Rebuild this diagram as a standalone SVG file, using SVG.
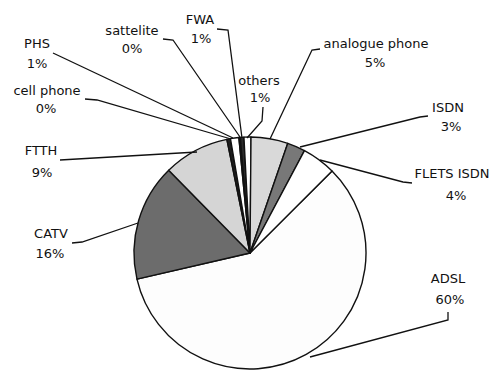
<svg xmlns="http://www.w3.org/2000/svg" width="491" height="370" viewBox="0 0 491 370">
<style>
.s{stroke:#111;stroke-width:1.4;stroke-linejoin:round}
.t{font-family:"DejaVu Sans","Liberation Sans",sans-serif;font-size:13px;fill:#111;text-anchor:middle}
.l{fill:none;stroke:#111;stroke-width:1.3}
</style>
<rect width="491" height="370" fill="#fff"/>
<g id="slices">
<g id="adsl"><path class="s" fill="#fdfdfd" d="M250,253 L332.02,170.98 A116,116 0 1 1 136.97,279.1 Z"/></g>
<g id="catv"><path class="s" fill="#6c6c6c" d="M250,253 L136.97,279.1 A116,116 0 0 1 168.7,170.26 Z"/></g>
<g id="ftth"><path class="s" fill="#d5d5d5" d="M250,253 L168.7,170.26 A116,116 0 0 1 226.87,139.33 Z"/></g>
<g id="cellphone"><path class="s" fill="#1e1e1e" d="M250,253 L226.87,139.33 A116,116 0 0 1 230.45,138.66 Z"/></g>
<g id="phs"><path class="s" fill="#ffffff" d="M250,253 L230.45,138.66 A116,116 0 0 1 238.88,137.53 Z"/></g>
<g id="sattelite"><path class="s" fill="#555" d="M250,253 L238.88,137.53 A116,116 0 0 1 240.29,137.41 Z"/></g>
<g id="fwa"><path class="s" fill="#2a2a2a" d="M250,253 L240.29,137.41 A116,116 0 0 1 243.93,137.16 Z"/></g>
<g id="others"><path class="s" fill="#ffffff" d="M250,253 L243.93,137.16 A116,116 0 0 1 251.01,137 Z"/></g>
<g id="analogue"><path class="s" fill="#d9d9d9" d="M250,253 L251.01,137 A116,116 0 0 1 287.77,143.32 Z"/></g>
<g id="isdn"><path class="s" fill="#787878" d="M250,253 L287.77,143.32 A116,116 0 0 1 304.46,150.58 Z"/></g>
<g id="flets"><path class="s" fill="#ffffff" d="M250,253 L304.46,150.58 A116,116 0 0 1 332.02,170.98 Z"/></g>
</g>
<g id="connectors">
<polyline class="l" points="217,29 228,30 242,138"/>
<polyline class="l" points="163,39 173,40 240,137"/>
<polyline class="l" points="53,53 233,138"/>
<polyline class="l" points="85,99 97,100 231,139"/>
<polyline class="l" points="60,160 197,152"/>
<polyline class="l" points="72,243 82,242 138,223"/>
<polyline class="l" points="263,107 262,121 247,138"/>
<polyline class="l" points="320,49 312,50 270,139"/>
<polyline class="l" points="428,116 420,117 300,147"/>
<polyline class="l" points="412,183 403,182 320,160"/>
<polyline class="l" points="448,312 448,320 310,357"/>
</g>
<g id="labels">
<g id="lbl-fwa"><text class="t" x="200" y="24">FWA</text><text class="t" x="201" y="43">1%</text></g>
<g id="lbl-sattelite"><text class="t" x="132" y="35">sattelite</text><text class="t" x="132" y="53">0%</text></g>
<g id="lbl-phs"><text class="t" x="37" y="48">PHS</text><text class="t" x="37" y="68">1%</text></g>
<g id="lbl-cell"><text class="t" x="47" y="95">cell phone</text><text class="t" x="46" y="113">0%</text></g>
<g id="lbl-ftth"><text class="t" x="41" y="155">FTTH</text><text class="t" x="42" y="177">9%</text></g>
<g id="lbl-catv"><text class="t" x="51" y="238">CATV</text><text class="t" x="50" y="258">16%</text></g>
<g id="lbl-others"><text class="t" x="259" y="85">others</text><text class="t" x="260" y="102">1%</text></g>
<g id="lbl-analogue"><text class="t" x="376" y="48">analogue phone</text><text class="t" x="375" y="67">5%</text></g>
<g id="lbl-isdn"><text class="t" x="448" y="112">ISDN</text><text class="t" x="451" y="131">3%</text></g>
<g id="lbl-flets"><text class="t" x="452" y="178">FLETS ISDN</text><text class="t" x="456" y="200">4%</text></g>
<g id="lbl-adsl"><text class="t" x="448" y="283">ADSL</text><text class="t" x="450" y="304">60%</text></g>
</g>
</svg>
